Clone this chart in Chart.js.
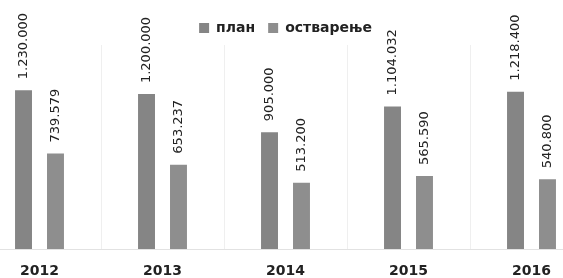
<!DOCTYPE html>
<html>
<head>
<meta charset="utf-8">
<script src="https://cdn.jsdelivr.net/npm/chart.js@4/dist/chart.umd.min.js"></script>
<style>
  html, body { margin: 0; padding: 0; background: #ffffff; overflow: hidden; }
  body { width: 563px; height: 278px; position: relative; }
  #wrap { position: absolute; left: -22px; top: 0; width: 615px; height: 293px; }
</style>
</head>
<body>
<div id="wrap"><canvas id="c"></canvas></div>
<script>
const years = ['2012', '2013', '2014', '2015', '2016'];
const planValues = [1230000, 1200000, 905000, 1104032, 1218400];
const realizedValues = [739579, 653237, 513200, 565590, 540800];
const seriesNames = ['план', 'остварење'];

function fmt(v) {
  return String(v).replace(/\B(?=(\d{3})+(?!\d))/g, '.');
}

const rotatedLabels = {
  id: 'rotatedLabels',
  afterDatasetsDraw(chart) {
    const ctx = chart.ctx;
    ctx.save();
    ctx.font = '13px "DejaVu Sans"';
    ctx.fillStyle = '#222222';
    ctx.textAlign = 'left';
    ctx.textBaseline = 'middle';
    chart.data.datasets.forEach((ds, di) => {
      const meta = chart.getDatasetMeta(di);
      meta.data.forEach((bar, i) => {
        ctx.save();
        ctx.translate(bar.x, bar.y - 11);
        ctx.rotate(-Math.PI / 2);
        ctx.fillText(fmt(ds.data[i]), 0, 0);
        ctx.restore();
      });
    });
    ctx.restore();
  }
};

new Chart(document.getElementById('c'), {
  type: 'bar',
  data: {
    labels: years,
    datasets: [
      { label: seriesNames[0], data: planValues, backgroundColor: '#858585',
        categoryPercentage: 0.52, barPercentage: 0.53 },
      { label: seriesNames[1], data: realizedValues, backgroundColor: '#8e8e8e',
        categoryPercentage: 0.52, barPercentage: 0.53 }
    ]
  },
  options: {
    responsive: true,
    maintainAspectRatio: false,
    animation: false,
    layout: { padding: { top: 8, left: 0, right: 0, bottom: 0 } },
    plugins: {
      legend: {
        position: 'top',
        labels: {
          boxWidth: 10, boxHeight: 10, padding: 13,
          color: '#222222',
          font: { family: '"DejaVu Sans"', size: 14, weight: 'bold' }
        }
      },
      tooltip: { enabled: false }
    },
    scales: {
      x: {
        grid: { display: true, color: '#efefef', drawTicks: false, offset: true },
        border: { display: true, color: '#e2e2e2' },
        ticks: {
          color: '#222222', padding: 15,
          font: { family: '"DejaVu Sans"', size: 14, weight: 'bold', lineHeight: 1 }
        }
      },
      y: {
        display: false,
        min: 0, max: 1580000
      }
    }
  },
  plugins: [rotatedLabels]
});
</script>
</body>
</html>
